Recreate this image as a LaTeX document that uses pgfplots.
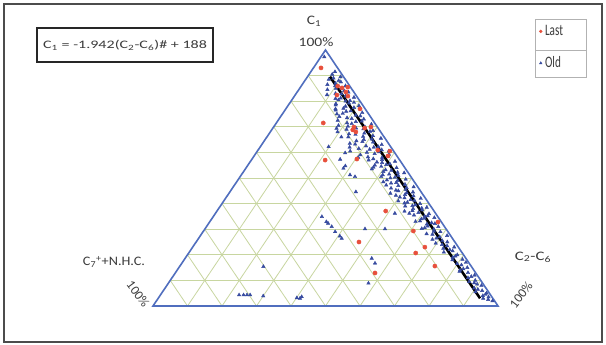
\documentclass[border=0pt]{standalone}
\usepackage{pgfplots}
\pgfplotsset{compat=1.18}
\usepackage{pgfplotstable}
\usepackage{fontspec}
\setmainfont{Carlito}
\definecolor{gridc}{RGB}{200,214,160}
\definecolor{edgec}{RGB}{80,110,190}
\definecolor{lastc}{RGB}{232,80,60}
\definecolor{oldc}{RGB}{55,75,160}
\definecolor{txtc}{RGB}{60,60,60}

% columns: C1 (%) and C7+ + N.H.C. (%); C2-C6 = 100 - C1 - C7
\pgfplotstableread{
C1 C7
97.3 1.7
91.5 1.5
90.5 2.8
89.5 0.9
88.5 4.8
88 2.2
87 3.6
86.5 6.2
86 1.2
85 4.5
84.5 7.2
84 2.6
83 5.6
82.5 8.3
82 3.2
81.5 1.0
81 6.6
80.5 6.0
80 4.2
79.5 2.0
79 7.5
78.5 7.8
78 5.2
77.5 3.0
77 8.6
76.5 8.8
76 6.0
75.5 1.6
75 9.2
74.5 4.0
74 9.0
73.5 7.0
73 2.4
72.5 10.2
72 5.2
71.5 8.0
71 1.2
70.5 11.0
70 3.6
69.5 6.4
69 9.4
68.5 2.0
68 12.5
67.5 5.0
67 7.8
66.5 3.0
66 10.4
66 12.4
65.5 1.2
65 6.4
64.5 8.8
64 4.2
63.5 11.2
63 2.2
62.5 7.0
62 5.0
62 12.0
61.5 9.6
61 3.2
60.5 1.4
60.5 12.6
60 8.0
59.5 6.0
59 10.4
58.5 2.6
58 4.6
58 11.5
57.5 7.4
57 9.0
56.5 1.6
56 5.6
55.5 3.6
55 8.2
54.5 6.6
54 2.4
53.5 9.8
53 4.4
52.5 7.0
52 1.2
51.5 5.8
51 3.4
50.5 8.6
50 6.2
49.5 2.0
49 4.6
48.5 9.0
48 7.0
47.5 3.2
47 5.4
46.5 1.2
46 8.0
45.5 4.0
45 6.4
44.5 2.4
44 9.2
43.5 5.2
43 3.0
42.5 7.2
42 1.4
41.5 4.6
41 8.4
40.5 6.0
40 2.6
39.5 4.2
39 7.4
38.5 1.4
38 5.6
37.5 3.2
37 8.6
36.5 4.8
36 2.0
35.5 6.6
35 3.8
34.5 1.2
34 5.2
33 7.4
32.5 3.0
32 4.6
31 1.8
30.5 6.0
30 3.6
29 2.2
28 5.0
27.5 1.0
27 3.4
26 6.0
25 2.2
24 4.2
23 1.2
22 3.0
21 5.2
20 1.8
19 3.6
18 4.2
17 0.8
16 2.6
15 1.4
14 4.0
13 2.2
12 0.8
11 3.2
10 1.6
9 2.4
8 0.8
7 3.4
6 1.6
5 0.8
4 2.4
3.5 1.0
2.5 1.6
2 0.6
89 3.2
87.5 1.8
86 4.2
84.8 3.0
83.5 1.6
82.8 4.0
81.2 5.0
80.2 2.8
79.2 3.6
78.2 1.2
77.2 6.2
76.2 4.6
75.2 7.4
74.2 2.8
73.2 5.8
72.2 3.4
71.2 6.8
70.2 8.4
69.2 4.4
68.2 3.0
67.2 9.6
66.2 6.0
65.2 4.0
64.2 7.2
63.2 9.8
62.2 3.6
61.2 6.6
60.2 4.4
59.2 2.0
58.2 8.6
57.2 5.0
56.2 7.0
55.2 4.8
54.2 9.0
53.2 6.0
52.2 3.0
51.2 7.8
50.2 4.8
49.2 7.6
48.2 5.4
47.2 8.8
46.2 3.4
45.2 7.0
44.2 4.4
43.2 8.0
42.2 6.0
41.2 3.6
40.2 7.0
39.2 5.2
38.2 3.0
37.2 6.2
36.2 7.6
35.2 2.8
34.2 4.2
33.2 6.0
32.2 2.2
31.2 4.8
30.2 7.0
29.2 4.0
28.2 6.6
26.5 4.6
25.5 3.4
24.5 5.8
23.5 3.0
22.5 4.6
21.5 2.4
19.5 2.6
18.2 1.2
16.5 3.6
14.5 2.8
13.5 4.4
11.5 2.0
9.5 3.6
8.5 1.8
6.5 2.6
5.5 3.8
4.5 1.4
3 2.8
62.2 18.0
57.3 17.1
54.7 16.9
53.8 17.9
51.2 17.3
50.5 16.2
44.6 18.9
69.4 12.1
59.8 14.4
34.9 33.6
32.9 33.3
32.3 33.1
31.0 32.7
29.0 32.7
27.3 32.2
26.4 32.1
30.1 23.5
30.1 17.7
36.2 11.8
18.6 27.3
16.7 27.3
8.9 33.1
3.6 55.1
15.4 60.3
4.3 71.6
4.3 70.6
4.3 69.7
3.9 66.1
3.2 56.7
3.0 55.9
4.3 72.9
}\oldtab

\pgfplotstableread{
C1 C7
93.0 4.8
85.9 3.5
85.2 2.6
85.5 0.8
83.6 2.3
82.4 5.5
82.0 2.5
77.0 1.5
71.5 14.9
69.9 6.8
68.0 7.2
69.5 3.9
69.9 1.9
68.8 7.7
60.9 4.4
60.5 1.1
58.6 2.6
57.0 21.6
57.4 12.2
37.1 14.0
29.3 9.9
25.0 27.8
23.0 9.7
20.7 13.5
15.6 10.5
12.9 29.2
32.8 1.0
}\lasttab

\pgfplotstableread{
C1 C7
89.6 3.9
3.0 3.7
}\fittab

\begin{document}
\begin{tikzpicture}
\useasboundingbox (0,0) rectangle (606bp,-345bp);
\fill[white] (0,0) rectangle (606bp,-345bp);
\draw[line width=1.3bp, black!70] (4bp,-4bp) rectangle (602bp,-342bp);
\begin{axis}[at={(153bp,-306bp)}, anchor=south west, scale only axis,
  width=345bp, height=256bp, xmin=0, xmax=100, ymin=0, ymax=100,
  axis lines=none, clip=false, reverse legend,
  legend image code/.code={\draw[#1, mark size=1.5bp] plot coordinates {(0bp,0bp)};},
  legend style={at={(axis description cs:1.119,1.0098)}, anchor=west, draw=none, fill=none,
    font=\fontsize{16}{16}\selectfont, text=txtc, row sep=14bp, inner sep=0pt,
    nodes={inner sep=2.8bp}},
  legend cell align=left]
% grid
\addplot[gridc, line width=0.8bp, forget plot] coordinates {(5,10)(95,10)};
\addplot[gridc, line width=0.8bp, forget plot] coordinates {(10,20)(90,20)};
\addplot[gridc, line width=0.8bp, forget plot] coordinates {(15,30)(85,30)};
\addplot[gridc, line width=0.8bp, forget plot] coordinates {(20,40)(80,40)};
\addplot[gridc, line width=0.8bp, forget plot] coordinates {(25,50)(75,50)};
\addplot[gridc, line width=0.8bp, forget plot] coordinates {(30,60)(70,60)};
\addplot[gridc, line width=0.8bp, forget plot] coordinates {(35,70)(65,70)};
\addplot[gridc, line width=0.8bp, forget plot] coordinates {(40,80)(60,80)};
\addplot[gridc, line width=0.8bp, forget plot] coordinates {(45,90)(55,90)};
\addplot[gridc, line width=0.8bp, forget plot] coordinates {(10,0)(55,90)};
\addplot[gridc, line width=0.8bp, forget plot] coordinates {(20,0)(60,80)};
\addplot[gridc, line width=0.8bp, forget plot] coordinates {(30,0)(65,70)};
\addplot[gridc, line width=0.8bp, forget plot] coordinates {(40,0)(70,60)};
\addplot[gridc, line width=0.8bp, forget plot] coordinates {(50,0)(75,50)};
\addplot[gridc, line width=0.8bp, forget plot] coordinates {(60,0)(80,40)};
\addplot[gridc, line width=0.8bp, forget plot] coordinates {(70,0)(85,30)};
\addplot[gridc, line width=0.8bp, forget plot] coordinates {(80,0)(90,20)};
\addplot[gridc, line width=0.8bp, forget plot] coordinates {(90,0)(95,10)};
\addplot[gridc, line width=0.8bp, forget plot] coordinates {(90,0)(45,90)};
\addplot[gridc, line width=0.8bp, forget plot] coordinates {(80,0)(40,80)};
\addplot[gridc, line width=0.8bp, forget plot] coordinates {(70,0)(35,70)};
\addplot[gridc, line width=0.8bp, forget plot] coordinates {(60,0)(30,60)};
\addplot[gridc, line width=0.8bp, forget plot] coordinates {(50,0)(25,50)};
\addplot[gridc, line width=0.8bp, forget plot] coordinates {(40,0)(20,40)};
\addplot[gridc, line width=0.8bp, forget plot] coordinates {(30,0)(15,30)};
\addplot[gridc, line width=0.8bp, forget plot] coordinates {(20,0)(10,20)};
\addplot[gridc, line width=0.8bp, forget plot] coordinates {(10,0)(5,10)};
% triangle
\addplot[edgec, line width=1.6bp, line join=miter, forget plot] coordinates {(0,0)(100,0)(50,100)(0,0)(100,0)};
% data
\addplot[only marks, mark=triangle*, mark size=2bp, color=oldc]
  table[x expr=100-0.5*\thisrow{C1}-\thisrow{C7}, y=C1]{\oldtab};
\addlegendentry{\scalebox{0.7}[1]{Old}}
\addplot[only marks, mark=*, mark size=2.1bp, color=lastc]
  table[x expr=100-0.5*\thisrow{C1}-\thisrow{C7}, y=C1]{\lasttab};
\addlegendentry{\scalebox{0.7}[1]{Last}}
\addplot[black, line width=2.6bp, forget plot]
  table[x expr=100-0.5*\thisrow{C1}-\thisrow{C7}, y=C1]{\fittab};
\end{axis}
% labels
\tikzset{lab/.style={font=\fontsize{13}{13}\selectfont, text=txtc, inner sep=0pt}}
\node[lab, xscale=1.2] at (314bp,-21bp) {C\textsubscript{1}};
\node[lab, xscale=1.2] at (316bp,-42bp) {100\%};
\node[lab, xscale=1.1] at (114bp,-262bp) {C\textsubscript{7}\textsuperscript{+}+N.H.C.};
\node[lab, rotate=-54] at (138bp,-294bp) {100\%};
\node[lab, xscale=1.3] at (533bp,-257bp) {C\textsubscript{2}-C\textsubscript{6}};
\node[lab, rotate=52] at (521bp,-295bp) {100\%};
% equation box
\draw[line width=2bp, black!85] (37bp,-28bp) rectangle (213bp,-62bp);
\node[font=\fontsize{11.5}{12}\selectfont, text=txtc, xscale=1.4, inner sep=0pt] at (125bp,-45bp)
  {C\textsubscript{1} = -1.942(C\textsubscript{2}-C\textsubscript{6})\# + 188};
% legend frame
\draw[black!30, line width=0.8bp] (535bp,-19bp) rectangle (586bp,-77bp);
\draw[black!30, line width=0.8bp] (535bp,-50bp) -- (586bp,-50bp);
\end{tikzpicture}
\end{document}
